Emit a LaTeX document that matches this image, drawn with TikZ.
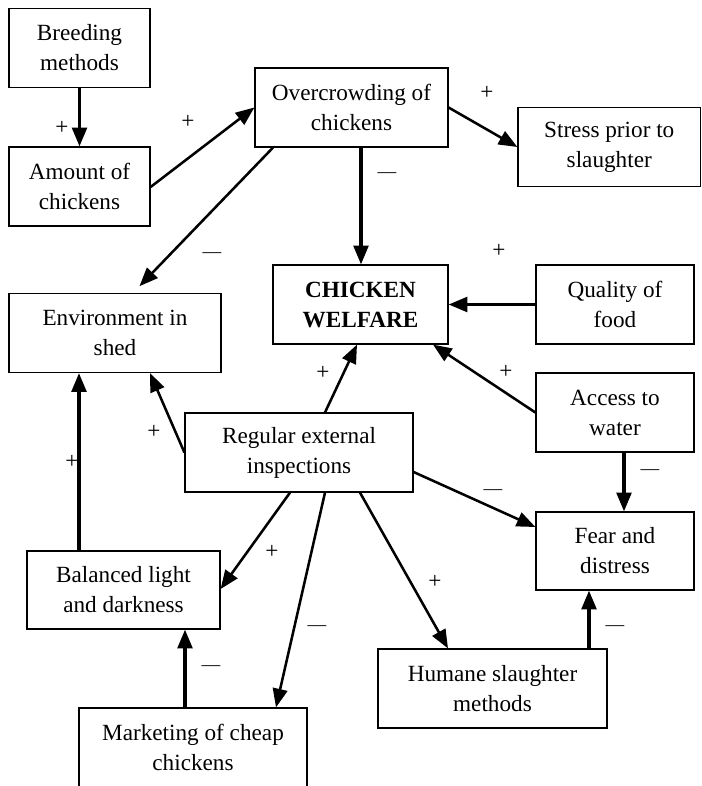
\documentclass[tikz,border=0pt]{standalone}
\usepackage{fontspec}
\setmainfont{Liberation Serif}
\usetikzlibrary{arrows.meta}
\begin{document}
\begin{tikzpicture}[x=0.75pt,y=-0.75pt,
  box/.style={draw, line width=0.9pt, minimum height=59.25pt, align=center, inner sep=0pt,
    font=\fontsize{17.4}{22.5}\selectfont},
  arr/.style={-{Triangle[length=14pt,width=11pt]}, line width=1.9pt},
  arrb/.style={arr, line width=2.4pt},
  plus/.style={font=\fontsize{17.4}{20}\selectfont, inner sep=0pt},
  minus/.style={font=\fontsize{14}{16}\selectfont, inner sep=0pt}]
\useasboundingbox (0,0) rectangle (702,786);

% boxes
\node[box, minimum width=105.75pt] (breed) at (79.5,48) {Breeding\\methods};
\node[box, minimum width=105.75pt] (amount) at (79.5,186.5) {Amount of\\chickens};
\node[box, minimum width=144.75pt] (over) at (351.5,107.5) {Overcrowding of\\chickens};
\node[box, minimum width=136.9pt] (stress) at (609.25,147) {Stress prior to\\slaughter};
\node[box, minimum width=131.25pt] (welfare) at (360.5,304.5) {\bfseries CHICKEN\\\bfseries WELFARE};
\node[box, minimum width=118.5pt] (quality) at (615,304.5) {Quality of\\food};
\node[box, minimum width=159pt] (env) at (115,333) {Environment in\\shed};
\node[box, minimum width=171pt] (regular) at (299,452.5) {Regular external\\inspections};
\node[box, minimum width=118.5pt] (access) at (615,412.5) {Access to\\water};
\node[box, minimum width=118.5pt, minimum height=58.5pt] (fear) at (615,551) {Fear and\\distress};
\node[box, minimum width=144.75pt, minimum height=58.5pt] (balanced) at (123.5,590) {Balanced light\\and darkness};
\node[box, minimum width=171pt] (market) at (193,747.5) {Marketing of cheap\\chickens};
\node[box, minimum width=171.75pt] (humane) at (492.5,688.5) {Humane slaughter\\methods};

% connectors
\draw[arrb] (breed.south) -- (amount.north);
\draw[arr] (amount.east |- 0,187) -- (over.west);
\draw[arr, shorten >=7pt] (over.south -| 273,0) -- (env.north -| 133,0);
\draw[arrb] (over.south -| 361,0) -- (welfare.north -| 361,0);
\draw[arr] (over.east) -- (stress.west);
\draw[arrb] (quality.west) -- (welfare.east);
\draw[arr] (access.west) -- (welfare.south -| 433,0);
\draw[arrb] (access.south -| 624,0) -- (fear.north -| 624,0);
\draw[arr] (regular.north -| 325,0) -- (welfare.south -| 357,0);
\draw[arr] (regular.west) -- (env.south -| 150,0);
\draw[arr] (regular.east |- 0,472) -- (fear.west |- 0,527);
\draw[arr] (regular.south -| 290,0) -- (balanced.east |- 0,589);
\draw[arr] (regular.south -| 325,0) -- (market.north -| 276,0);
\draw[arr] (regular.south -| 360,0) -- (humane.north -| 448,0);
\draw[arrb] (humane.north -| 589,0) -- (fear.south -| 589,0);
\draw[arrb] (market.north -| 185,0) -- (balanced.south -| 185,0);
\draw[arrb] (balanced.north -| 79,0) -- (env.south -| 79,0);

% signs
\node[plus] (s1) at (62,128) {+};
\node[plus] (s2) at (188,122) {+};
\node[minus] (s3) at (212,255) {—};
\node[minus] (s4) at (387,175) {—};
\node[plus] (s5) at (487,93) {+};
\node[plus] (s6) at (499,251) {+};
\node[plus] (s7) at (506,372) {+};
\node[minus] (s8) at (650,472) {—};
\node[plus] (s9) at (323,373) {+};
\node[plus] (s10) at (154,432) {+};
\node[minus] (s11) at (493,492) {—};
\node[plus] (s12) at (272,552) {+};
\node[minus] (s13) at (317,628) {—};
\node[plus] (s14) at (435,582) {+};
\node[minus] (s15) at (615,628) {—};
\node[minus] (s16) at (211,668) {—};
\node[plus] (s17) at (72,462) {+};
\end{tikzpicture}
\end{document}
